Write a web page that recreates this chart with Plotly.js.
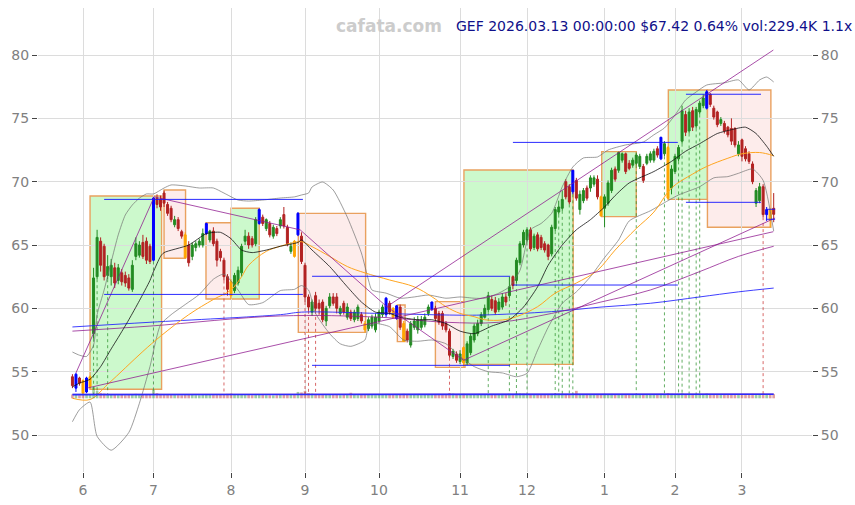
<!DOCTYPE html>
<html><head><meta charset="utf-8">
<script src="https://cdn.plot.ly/plotly-3.0.1.min.js"></script>
<style>html,body{margin:0;padding:0;background:#fff;}#chart{width:855px;height:505px;}</style>
</head><body><div id="chart"></div>
<script>
// ---------- axis ticks (trading-day index -> month label) ----------
const tickIdx  = [3, 23, 45, 66, 87, 110, 129, 151, 171, 190];
const tickText = ['6','7','8','9','10','11','12','1','2','3'];

// ---------- daily OHLC (trading days 2025-05-28 .. 2026-03-13) ----------
const openP = [
54.6,53.7,54.5,54.3,53.4,53.8,58.0,62.5,65.3,64.9,
62.6,62.5,63.2,62.2,62.8,62.6,62.4,61.5,64.1,64.2,
65.2,65.3,64.9,63.8,68.7,68.6,69.1,68.2,67.9,66.6,
67.0,66.05,65.8,65.0,64.1,64.8,65.0,65.0,65.9,65.4,
66.1,65.3,64.5,63.8,62.5,62.1,61.4,62.0,62.8,65.3,
65.7,65.5,65.1,66.7,67.2,66.3,66.7,65.7,66.3,66.5,
67.4,66.4,64.5,65.3,65.8,65.7,63.4,60.9,59.7,61.0,
60.4,60.5,59.0,60.2,60.9,60.9,59.6,60.4,59.3,59.7,
59.1,59.2,59.5,58.8,58.4,58.6,58.3,59.0,59.5,59.5,
60.4,60.0,59.2,60.1,58.8,58.2,57.1,58.5,58.3,58.5,
58.7,59.6,59.9,60.0,59.6,59.6,58.8,58.2,56.2,56.4,
55.8,56.9,55.7,56.5,57.5,58.0,58.8,59.3,59.9,60.7,
60.6,59.9,60.1,60.9,61.0,62.5,62.2,63.6,65.0,65.4,
66.2,64.8,65.8,65.6,65.1,65.0,64.3,66.3,67.6,67.9,
70.0,69.6,69.2,70.1,67.8,68.5,69.5,69.5,69.8,70.2,
68.8,67.9,68.3,69.3,71.0,70.9,71.7,72.2,71.45,71.3,
71.45,71.2,71.2,71.45,71.7,71.7,72.6,71.8,72.2,72.7,
69.5,70.8,71.8,73.2,75.3,74.0,75.6,74.4,75.5,76.0,
75.8,76.9,75.8,75.5,74.6,74.6,74.3,74.2,74.2,72.2,
73.3,72.6,72.2,71.4,68.3,68.5,69.6,67.4,67.8,67.9];
const highP = [
54.8,54.9,54.6,54.4,54.6,54.7,63.2,66.2,65.6,65.1,
64.2,63.9,63.6,63.5,63.1,62.9,62.7,63.8,65.6,65.3,
65.8,65.6,65.1,68.8,69.0,68.9,69.3,68.4,68.1,67.3,
67.2,66.2,66.0,65.3,65.2,65.3,65.5,66.3,66.76,66.2,
66.4,65.5,64.7,64.0,62.7,62.3,62.8,63.3,65.1,66.2,
66.0,65.7,67.2,67.9,67.4,67.1,66.9,66.6,66.5,67.2,
68.0,66.6,65.2,65.4,67.6,66.0,63.6,61.1,60.7,61.3,
60.7,60.7,60.2,61.2,61.2,61.2,60.2,60.6,60.4,59.9,
59.9,60.3,59.7,59.0,59.3,59.5,59.6,59.9,60.3,60.9,
60.6,60.1,60.26,60.3,59.0,58.4,59.0,59.3,59.4,59.4,
59.6,60.3,60.53,60.2,59.8,59.8,59.0,58.4,56.8,56.6,
56.7,57.0,57.4,58.0,58.8,59.1,59.7,60.3,61.3,61.0,
60.9,60.8,61.2,61.2,62.5,62.6,64.0,65.3,66.2,66.4,
66.4,65.9,66.0,65.8,65.3,65.1,66.6,68.0,68.5,69.3,
70.2,69.8,70.92,70.3,69.3,69.5,69.7,70.5,70.5,70.5,
68.9,69.0,70.1,71.1,71.2,72.37,72.3,72.3,71.7,71.9,
72.3,72.2,71.4,72.2,72.4,72.6,72.8,73.55,73.2,72.8,
71.3,72.2,72.9,76.0,75.6,75.8,75.9,75.9,76.4,76.9,
77.24,77.0,76.0,75.6,75.1,74.8,74.4,75.0,74.3,73.2,
73.4,72.8,72.4,71.6,69.5,69.9,69.8,68.0,67.9,69.1];
const lowP = [
53.7,53.4,53.9,53.2,53.3,53.6,57.6,62.3,62.9,62.2,
62.3,61.8,61.6,61.9,61.8,61.7,61.4,61.3,63.8,64.0,
63.9,63.5,63.5,63.7,67.9,67.7,68.0,67.3,66.8,66.4,
66.1,65.5,63.95,63.3,63.8,64.5,64.8,64.8,65.8,65.2,
64.9,63.3,63.7,62.2,61.0,60.74,61.2,61.8,62.5,65.0,
64.7,64.8,64.9,66.6,66.5,66.1,65.6,65.5,65.7,66.3,
66.3,64.9,64.3,64.0,65.7,63.5,60.5,59.8,59.4,59.8,
59.5,58.9,58.6,60.0,60.2,59.6,59.4,59.5,59.1,59.0,
58.9,59.0,58.8,58.1,58.2,58.4,58.1,58.8,59.3,59.3,
59.5,59.2,59.1,58.3,57.37,57.3,56.9,58.3,58.0,58.3,
58.5,59.4,59.8,59.0,58.7,58.3,58.1,56.1,56.0,55.7,
55.6,55.4,55.5,56.3,57.3,57.8,58.6,59.2,59.7,59.8,
59.5,59.7,59.9,60.2,60.8,61.5,62.0,63.4,64.8,65.2,
64.5,64.6,64.5,64.6,64.4,63.8,64.1,66.1,67.4,67.7,
68.6,68.2,69.0,68.5,67.4,68.3,68.5,69.2,69.6,68.6,
67.24,66.4,68.1,69.1,70.0,70.7,71.5,70.6,70.9,71.1,
71.3,71.0,69.9,71.3,71.5,71.5,71.9,71.7,72.0,68.6,
69.0,70.6,71.6,73.0,73.6,73.8,74.0,74.2,75.3,75.8,
75.7,75.9,74.9,74.3,74.4,73.8,73.5,72.9,72.7,72.0,
71.6,71.6,71.4,69.8,68.0,68.3,67.2,66.9,66.4,66.8];
const closeP = [
53.9,54.8,54.1,53.3,54.5,54.6,62.4,65.6,63.4,62.5,
63.3,63.4,62.0,63.2,62.1,62.0,61.6,63.4,65.1,65.0,
64.1,63.8,63.7,68.7,68.2,68.0,68.3,67.5,67.0,67.0,
66.3,65.7,64.0,63.6,65.0,65.1,65.3,65.9,66.7,66.1,
65.1,63.8,64.0,62.5,61.5,61.0,62.6,63.0,64.9,65.7,
65.0,65.0,67.0,67.8,66.7,67.0,65.8,66.4,65.9,67.0,
66.5,65.1,64.9,64.1,67.5,63.7,60.9,60.1,60.5,60.0,
60.0,59.1,60.0,60.9,60.4,60.0,60.0,59.7,60.1,59.2,
59.7,60.1,59.0,58.3,59.1,59.3,59.3,59.7,60.1,60.8,
59.7,59.3,60.2,58.5,57.4,57.5,58.8,59.0,59.1,59.1,
59.3,60.1,60.5,59.2,58.9,58.6,58.3,56.3,56.6,55.9,
56.4,55.7,57.2,57.8,58.6,58.8,59.5,60.0,61.0,60.0,
59.7,60.5,60.9,60.5,61.7,61.8,63.8,65.1,66.0,66.2,
64.7,65.7,64.7,64.8,64.6,64.1,66.4,67.8,68.0,68.6,
68.8,68.4,70.9,68.7,69.0,69.3,68.7,70.3,70.3,68.8,
67.3,68.8,69.9,70.9,70.2,72.3,72.2,70.8,71.05,71.7,
72.1,72.0,70.1,72.0,72.2,72.4,72.1,73.5,73.0,68.7,
71.0,72.0,72.7,75.6,73.9,75.5,74.3,75.7,76.2,76.6,
77.1,76.1,75.1,74.5,74.9,74.0,73.7,73.2,72.9,72.9,
72.0,71.8,71.6,70.0,69.3,69.6,67.4,67.8,67.0,67.42];
// pivot candles drawn in blue / orange
const blueIdx   = [1, 4, 23, 38, 53, 64, 89, 92, 102, 142, 167, 180, 197];
const orangeIdx = [3, 5, 32, 45, 63, 83, 91, 94, 111, 150, 169, 198];

// ---------- volume (thousands) ----------
const volume = [
210,190,175,200,195,240,620,420,290,260, 225,205,190,175,185,170,190,215,245,205,
195,210,205,480,285,240,225,205,190,185, 175,170,215,205,190,175,170,185,225,195,
190,210,205,230,245,260,205,190,215,205, 185,175,210,230,190,175,170,165,175,185,
205,195,190,210,350,325,410,285,260,240, 215,205,195,190,205,185,175,190,205,305,
190,175,185,205,190,185,175,190,195,215, 205,210,225,230,245,205,215,190,185,175,
185,195,215,205,195,205,210,285,260,230, 215,245,230,225,210,205,195,205,230,205,
190,185,195,205,245,225,260,270,260,240, 230,210,205,195,190,205,245,270,260,250,
240,230,260,410,225,205,195,210,190,205, 230,245,225,240,215,230,205,210,190,195,
225,205,215,195,205,210,190,245,215,285, 245,230,240,285,225,210,215,205,225,230,
260,240,215,230,195,205,210,225,230,205, 215,205,210,245,230,215,260,225,205,229.4];
const volMaIdx = [0, 60, 120, 160, 199];
const volMaVal = [205, 215, 212, 218, 222];

// ---------- indicator lines ----------
const bbUpIdx = [0,2,4,6,7,9,11,13,15,17,19,21,23,26,28,32,36,40,43,47,50,54,59,63,65,67,68,71,74,78,82,84,85,89,93,97,101,106,110,114,117,121,124,127,130,133,136,139,142,145,149,152,157,162,165,168,171,174,177,180,185,189,192,195,197,199];
const bbUpVal = [56.55,56.3,56.2,57.1,59.5,61.45,63.66,65.8,67.37,68.16,68.7,69.03,69.03,69.5,69.74,69.66,69.5,69.5,69.1,68.55,68.47,68.55,68.71,68.8,68.95,69.1,69.58,69.97,69.34,67.2,64.37,62.24,61.45,61.2,60.8,60.9,61.05,60.8,60.9,60.8,60.8,61.2,61.7,63.0,66.2,66.7,67.5,69.6,71.16,71.87,71.95,72.5,72.9,73.13,73.7,74.24,75.26,76.45,77.08,77.63,77.8,78.03,77.24,78.03,78.26,77.87];
const bbLoIdx = [0,2,5,7,11,16,19,22,25,28,32,36,40,43,47,50,54,59,63,65,67,69,73,76,79,83,84,86,90,94,98,102,106,110,114,118,122,126,129,132,135,139,143,147,151,155,158,164,169,172,178,182,186,189,193,196,199];
const bbLoVal = [51.05,52.0,52.6,49.9,48.8,50.2,52.5,55.4,58.7,59.5,60.3,61.1,62.3,62.7,61.45,60.3,60.45,61.4,61.5,61.8,61.45,59.6,58.0,57.2,57.0,57.5,58.55,58.8,58.55,57.5,57.4,57.5,57.2,56.2,55.4,55.0,54.9,54.6,54.87,56.7,58.5,60.4,61.3,62.5,64.0,65.4,66.9,67.7,68.5,68.95,69.6,70.3,70.4,70.66,71.0,70.1,66.1];
const midIdx = [0,2,5,8,11,13,16,19,22,23,25,26,33,38,42,45,48,51,55,59,64,65,68,73,78,82,86,90,93,98,102,106,110,114,119,124,128,132,135,139,143,147,151,154,158,165,170,174,178,183,187,191,194,197,199];
const midVal = [53.8,54.1,54.4,55.4,56.8,57.7,59.1,60.6,62.2,62.9,64.1,64.4,65.0,65.9,66.0,65.5,64.6,64.4,64.6,64.9,65.2,65.4,64.6,63.3,61.7,60.5,59.7,59.6,59.3,59.1,59.1,58.8,58.2,58.0,58.6,59.1,60.1,61.7,63.4,65.0,66.2,67.0,68.0,68.9,69.9,70.8,71.6,72.4,73.0,73.8,74.1,74.3,73.8,72.8,72.0];
const orIdx = [0,5,10,15,20,25,33,40,45,48,50,55,59,63,65,68,73,78,83,90,97,102,106,110,114,117,122,126,132,137,143,149,154,160,165,170,176,180,186,190,195,199];
const orVal = [52.9,52.8,54.0,55.3,56.6,57.8,59.5,60.7,61.45,62.5,63.4,64.5,64.9,65.2,65.26,64.87,64.1,63.3,62.8,62.24,61.7,60.92,60.13,59.6,59.34,59.1,59.08,59.34,60.13,61.2,62.0,63.0,64.6,66.3,67.6,69.5,70.6,71.2,71.85,72.2,72.3,72.05];
const blMaIdx = [0,22,59,65,87,107,116,136,150,164,178,189,199];
const blMaVal = [58.53,58.9,59.5,59.7,59.6,59.47,59.47,59.74,60.1,60.4,60.9,61.3,61.6];
const puMaIdx = [0,22,59,87,106,121,136,150,164,178,189,199];
const puMaVal = [58.2,58.6,59.4,59.3,58.9,58.9,59.6,60.5,61.45,62.9,64.1,64.9];

// ---------- trend boxes: start idx, end idx, low, high, kind ----------
const boxStart = [5.0, 26.0, 37.9, 45.0, 64.1, 92.2, 103.0, 111.1, 150.2, 169.1, 180.2];
const boxEnd   = [25.3, 32.1, 45.2, 53.0, 83.2, 94.4, 111.4, 142.1, 160.0, 180.2, 198.2];
const boxLow   = [53.61, 63.95, 60.74, 60.74, 58.1, 57.37, 55.34, 55.58, 67.24, 68.6, 66.4];
const boxHigh  = [68.87, 69.34, 66.76, 67.9, 67.5, 60.26, 60.53, 70.92, 72.37, 77.24, 77.24];
const boxKind  = ['up','down','down','up','down','down','down','up','up','up','down'];

// ---------- support / resistance levels ----------
const levelStart = [9.0, 9.0, 68.0, 68.0, 125.0, 125.0, 174.1, 174.1, 196.8, 196.8];
const levelEnd   = [65.4, 65.4, 124.2, 124.2, 171.8, 171.8, 195.4, 195.4, 199.4, 199.4];
const levelPrice = [68.6, 61.1, 62.53, 55.5, 73.1, 61.84, 76.9, 68.37, 67.82, 67.03];

// ---------- trend lines (idx0, price0, idx1, price1) ----------
const trendI0 = [1.0, 23.2, 64.6, 89.2, 111.0, 89.2, 4.1];
const trendP0 = [54.9, 68.8, 66.2, 60.13, 55.9, 60.13, 53.7];
const trendI1 = [23.2, 64.6, 89.2, 111.0, 199.4, 198.9, 198.9];
const trendP1 = [68.8, 66.2, 60.13, 55.9, 67.13, 80.39, 66.05];

// ---------- signal days (dotted markers) ----------
const sigUpIdx   = [6, 7, 10, 23, 118, 124, 126, 129, 137, 138, 139, 141, 142, 160, 168, 172, 173, 175, 177, 178];
const sigDownIdx = [43, 66, 67, 69, 107, 196];

// ================= build =================
const GREEN = '#228b22', RED = '#b22222';
const N = openP.length;
const allIdx = Array.from({length: N}, (_, i) => i);
const special = new Set(blueIdx.concat(orangeIdx));
const normIdx = allIdx.filter(i => !special.has(i));
const pick = (arr, idx) => idx.map(i => arr[i]);

function candle(idx, upCol, dnCol) {
  return {type: 'candlestick', x: idx,
    open: pick(openP, idx), high: pick(highP, idx), low: pick(lowP, idx), close: pick(closeP, idx),
    increasing: {line: {color: upCol, width: 1}, fillcolor: upCol},
    decreasing: {line: {color: dnCol, width: 1}, fillcolor: dnCol},
    whiskerwidth: 0, hoverinfo: 'skip', showlegend: false};
}
function line(x, y, color, width, extra) {
  return Object.assign({type: 'scatter', mode: 'lines', x: x, y: y,
    line: {color: color, width: width}, hoverinfo: 'skip', showlegend: false}, extra || {});
}
function segs(i0, p0, i1, p1) {
  const x = [], y = [];
  for (let k = 0; k < i0.length; k++) { x.push(i0[k], i1[k], null); y.push(p0[k], p1[k], null); }
  return {x, y};
}
const DOT_BASE = 53.2;
function dots(idx) {
  const x = [], y = [];
  idx.forEach(i => { x.push(i, i, null); y.push(lowP[i], DOT_BASE, null); });
  return {x, y};
}

const traces = [];
// volume
traces.push({type: 'bar', x: allIdx, y: volume, yaxis: 'y3', width: 0.75,
  marker: {color: allIdx.map(i => closeP[i] >= openP[i] ? 'rgba(34,139,34,0.42)' : 'rgba(178,34,34,0.42)'), line: {width: 0}},
  hoverinfo: 'skip', showlegend: false});
traces.push(line(volMaIdx, volMaVal.map(v => v * 1.08), 'rgba(160,60,160,0.8)', 1, {yaxis: 'y3'}));
traces.push(line(volMaIdx, volMaVal, '#2b2bff', 1.6, {yaxis: 'y3'}));
// dotted signals
const du = dots(sigUpIdx), dd = dots(sigDownIdx);
traces.push(line(du.x, du.y, 'rgba(34,139,34,0.7)', 1, {line: {color: 'rgba(34,139,34,0.7)', width: 1, dash: 'dot'}, connectgaps: false}));
traces.push(line(dd.x, dd.y, 'rgba(200,40,40,0.7)', 1, {line: {color: 'rgba(200,40,40,0.7)', width: 1, dash: 'dot'}, connectgaps: false}));
// moving averages / bands
traces.push(line(blMaIdx, blMaVal, 'rgba(30,30,255,0.85)', 1, {line: {color: 'rgba(30,30,255,0.85)', width: 1, shape: 'spline'}}));
traces.push(line(puMaIdx, puMaVal, 'rgba(140,20,140,0.75)', 1, {line: {color: 'rgba(140,20,140,0.75)', width: 1, shape: 'spline'}}));
traces.push(line(bbUpIdx, bbUpVal, 'rgba(110,110,110,0.85)', 0.8, {line: {color: 'rgba(110,110,110,0.85)', width: 0.8, shape: 'spline', smoothing: 0.6}}));
traces.push(line(bbLoIdx, bbLoVal, 'rgba(110,110,110,0.85)', 0.8, {line: {color: 'rgba(110,110,110,0.85)', width: 0.8, shape: 'spline', smoothing: 0.6}}));
traces.push(line(orIdx, orVal, '#ffa520', 1, {line: {color: '#ffa520', width: 1, shape: 'spline'}}));
traces.push(line(midIdx, midVal, '#111', 0.8, {line: {color: '#111', width: 0.8, shape: 'spline', smoothing: 0.6}}));
// candles
traces.push(candle(normIdx, GREEN, RED));
traces.push(candle(blueIdx, '#0000ff', '#0000ff'));
traces.push(candle(orangeIdx, '#ffa500', '#ffa500'));
// trend lines and levels
const tl = segs(trendI0, trendP0, trendI1, trendP1);
traces.push(line(tl.x, tl.y, 'rgba(140,20,140,0.75)', 1));
const lv = segs(levelStart, levelPrice, levelEnd, levelPrice);
traces.push(line(lv.x, lv.y, 'rgba(20,20,255,0.9)', 1));
// dummy for right axis
traces.push({type: 'scatter', mode: 'markers', x: [0], y: [60], yaxis: 'y2', marker: {opacity: 0}, hoverinfo: 'skip', showlegend: false});

const shapes = boxStart.map((s, k) => ({
  type: 'rect', layer: 'below', xref: 'x', yref: 'y',
  x0: s, x1: boxEnd[k], y0: boxLow[k], y1: boxHigh[k],
  fillcolor: boxKind[k] === 'up' ? '#ccf9cc' : '#fdeceb',
  line: {color: '#e9a15f', width: 1.4}
}));

const YR = [47.08, 83.71];
const axFont = {family: 'DejaVu Sans, sans-serif', size: 14, color: '#808080'};
const layout = {
  width: 855, height: 505,
  margin: {l: 38, r: 43, t: 8, b: 33},
  paper_bgcolor: '#ffffff', plot_bgcolor: '#ffffff',
  showlegend: false, boxgap: 0.3, boxgroupgap: 0.2, boxmode: 'overlay', bargap: 0.2,
  xaxis: {range: [-9.77, 209.87], tickmode: 'array', tickvals: tickIdx, ticktext: tickText,
    showgrid: true, gridcolor: '#dcdcdc', gridwidth: 1, zeroline: false, showline: false,
    ticks: 'outside', ticklen: 5, tickcolor: '#444', tickfont: axFont,
    rangeslider: {visible: false}, fixedrange: true},
  yaxis: {range: YR, tickmode: 'array', tickvals: [50,55,60,65,70,75,80], showgrid: true,
    gridcolor: '#dcdcdc', gridwidth: 1, zeroline: false, showline: false,
    ticks: 'outside', ticklen: 5, tickcolor: '#444', tickfont: axFont, fixedrange: true},
  yaxis2: {range: YR, overlaying: 'y', side: 'right', tickmode: 'array', tickvals: [50,55,60,65,70,75,80],
    showgrid: false, zeroline: false, showline: false, ticks: 'outside', ticklen: 5, tickcolor: '#444',
    tickfont: axFont, fixedrange: true},
  yaxis3: {range: [-4053, 21467], overlaying: 'y', visible: false, fixedrange: true},
  shapes: shapes,
  annotations: [
    {xref: 'paper', yref: 'paper', x: 0.4535, y: 0.9612, xanchor: 'center', yanchor: 'middle',
     text: '<b>cafata.com</b>', showarrow: false, font: {family: 'DejaVu Sans, sans-serif', size: 17, color: '#cccccc'}},
    {xref: 'paper', yref: 'paper', x: 0.5375, y: 0.9612, xanchor: 'left', yanchor: 'middle',
     text: 'GEF 2026.03.13 00:00:00 $67.42 0.64% vol:229.4K 1.1x', showarrow: false,
     font: {family: 'DejaVu Sans, sans-serif', size: 14, color: '#10108a'}}
  ]
};
Plotly.newPlot('chart', traces, layout, {staticPlot: true, displayModeBar: false});
</script></body></html>
